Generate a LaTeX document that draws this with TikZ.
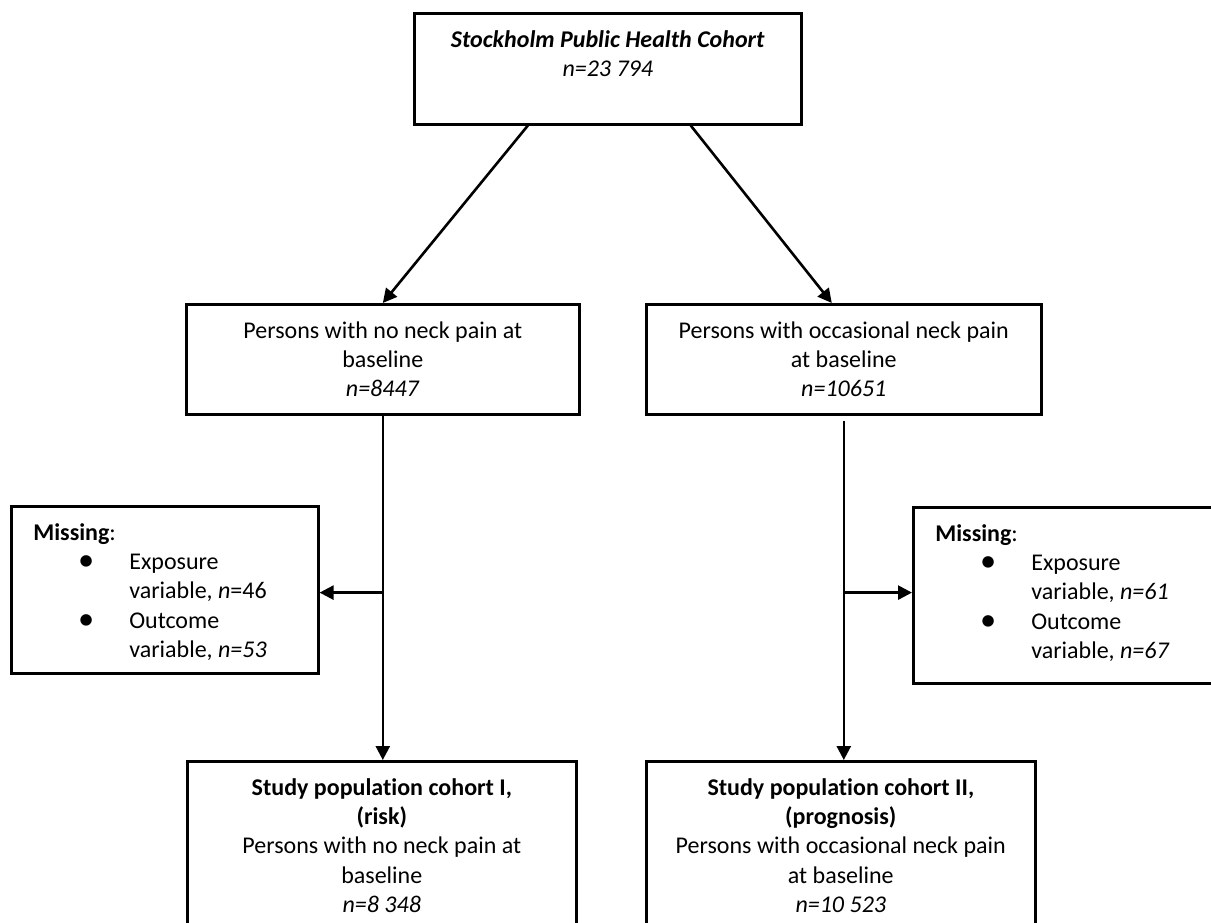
\documentclass[tikz,border=0pt]{standalone}
\usepackage{fontspec}
\setmainfont{Carlito}[Ligatures=NoCommon]
\usetikzlibrary{arrows.meta,calc}
\newcommand\bxc[4]{\parbox[c][#2][t]{#1}{\centering\rule{0pt}{#3}#4}}
\newcommand\bxl[4]{\parbox[c][#2][t]{#1}{\raggedright\rule{0pt}{#3}#4}}
\newcommand\itm[1]{\hspace*{75pt}\makebox[0pt]{\raisebox{-1pt}{\scalebox{1.35}{\textbullet}}}\hspace*{43pt}#1}
\newcommand\itc[1]{\hspace*{118pt}#1}
\begin{document}
\begin{tikzpicture}[x=1pt,y=-1pt,
  box/.style={draw, line width=2.6pt, inner sep=0pt, anchor=north west,
    font=\fontsize{24}{29.3}\selectfont},
  arr/.style={line width=2.6pt, -{Triangle[length=14pt,width=14pt]}}]
\clip (0,0) rectangle (1211,922);
\fill[white] (0,0) rectangle (1211,922);

\node[box] (top) at (413,12)
  {\bxc{387pt}{111pt}{34.5pt}{\textbf{\textit{Stockholm Public Health Cohort}}\\[-1pt] \textit{n=23 794}}};

\node[box] (ml) at (185,303)
  {\bxc{393pt}{110pt}{34pt}{Persons with no neck pain at\\ baseline\\ \textit{n=8447}}};
\node[box] (mr) at (645,303)
  {\bxc{395pt}{110pt}{34pt}{Persons with occasional neck pain\\ at baseline\\ \textit{n=10651}}};

\node[box] (lm) at (10,505)
  {\bxl{307pt}{167pt}{34pt}{\hspace*{22pt}\textbf{Missing}:\\
   \itm{Exposure}\\ \itc{variable, \textit{n}=46}\\
   \itm{Outcome}\\ \itc{variable, \textit{n=53}}}};
\node[box] (rm) at (912,506)
  {\bxl{305pt}{176pt}{34pt}{\hspace*{22pt}\textbf{Missing}:\\
   \itm{Exposure}\\ \itc{variable, \textit{n=61}}\\
   \itm{Outcome}\\ \itc{variable, \textit{n=67}}}};

\node[box] (bl) at (186,760)
  {\bxc{389pt}{180pt}{34pt}{\textbf{Study population cohort I,}\\ \textbf{(risk)}\\ Persons with no neck pain at\\ baseline\\ \textit{n=8 348}}};
\node[box] (br) at (645,760)
  {\bxc{389pt}{180pt}{34pt}{\textbf{Study population cohort II,}\\ \textbf{(prognosis)}\\ Persons with occasional neck pain\\ at baseline\\ \textit{n=10 523}}};

\draw[arr] ([xshift=-80pt]top.south) -- (ml.north);
\draw[arr] ([xshift=83pt]top.south) -- ([xshift=-12pt]mr.north);

\draw[arr] (ml.south) -- (ml.south |- bl.north);
\path (ml.south) ++(0,177) coordinate (jl);
\draw[arr] (jl) -- (jl -| lm.east);

\draw[arr] ([yshift=-5pt]mr.south) -- (mr.south |- br.north);
\path (mr.south) ++(0,177) coordinate (jr);
\draw[arr] (jr) -- (jr -| rm.west);
\end{tikzpicture}
\end{document}
